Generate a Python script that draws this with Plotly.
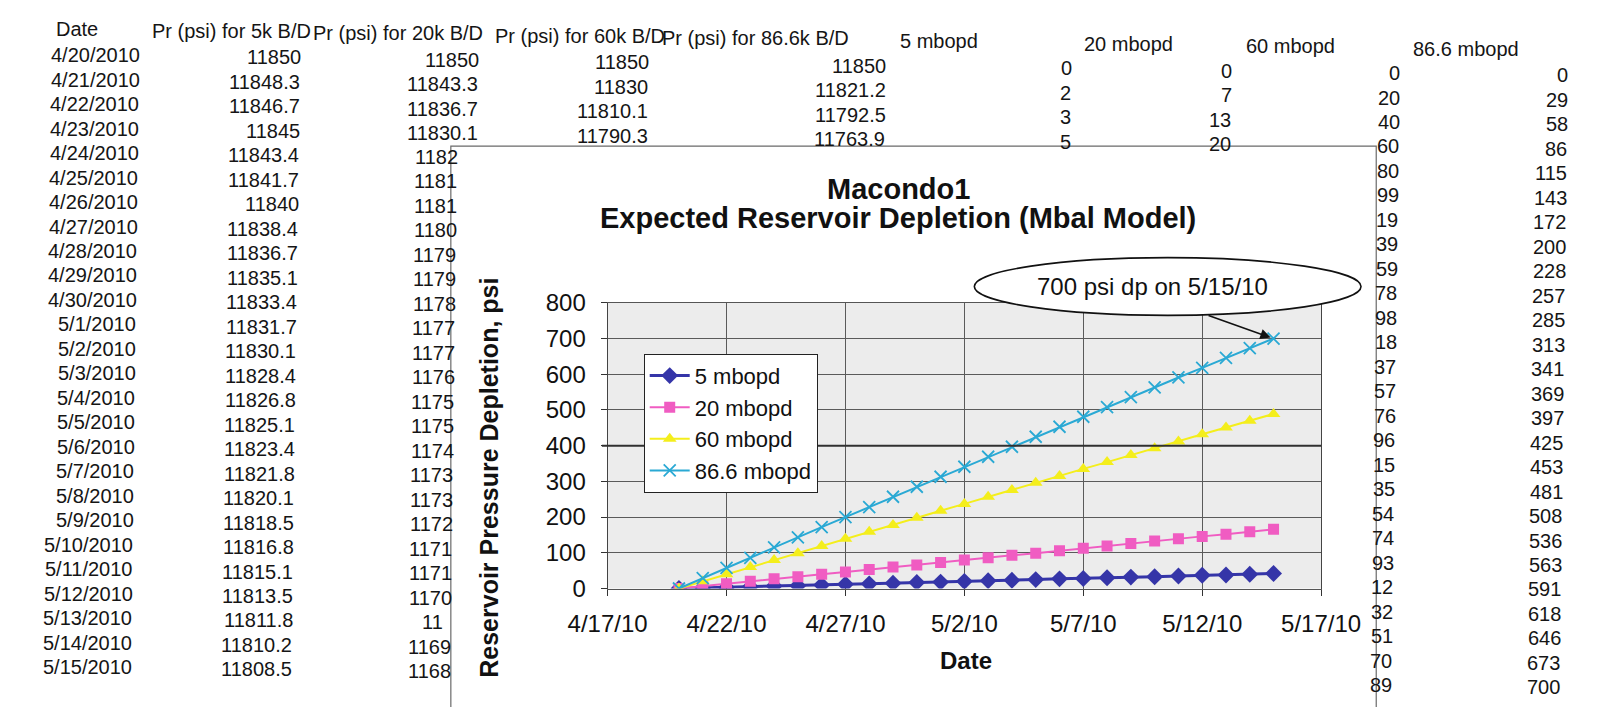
import plotly.graph_objects as go
import pandas as pd

W, H = 1603, 707
OFF = 8  # the page body margin shifts the figure by 8 px
FONT = "Liberation Sans, Arial, sans-serif"
ROT = 0.014  # slight tilt of the scanned sheet

# ---------------- data ----------------
dates = ["4/20/2010", "4/21/2010", "4/22/2010", "4/23/2010", "4/24/2010", "4/25/2010",
         "4/26/2010", "4/27/2010", "4/28/2010", "4/29/2010", "4/30/2010", "5/1/2010",
         "5/2/2010", "5/3/2010", "5/4/2010", "5/5/2010", "5/6/2010", "5/7/2010",
         "5/8/2010", "5/9/2010", "5/10/2010", "5/11/2010", "5/12/2010", "5/13/2010",
         "5/14/2010", "5/15/2010"]
pr_5k = [11850, 11848.3, 11846.7, 11845, 11843.4, 11841.7, 11840, 11838.4, 11836.7,
         11835.1, 11833.4, 11831.7, 11830.1, 11828.4, 11826.8, 11825.1, 11823.4,
         11821.8, 11820.1, 11818.5, 11816.8, 11815.1, 11813.5, 11811.8, 11810.2, 11808.5]
pr_20k = [11850, 11843.3, 11836.7, 11830.1]
pr_20k_clipped = ["1182", "1181", "1181", "1180", "1179", "1179", "1178", "1177", "1177",
                  "1176", "1175", "1175", "1174", "1173", "1173", "1172", "1171", "1171",
                  "1170", "11", "1169", "1168"]
pr_60k = [11850, 11830, 11810.1, 11790.3]
pr_86k = [11850, 11821.2, 11792.5, 11763.9]

dep_5 = [0, 2, 3, 5, 7, 8, 10, 12, 13, 15, 17, 18, 20, 22, 23, 25, 27, 28, 30, 32,
         33, 35, 37, 38, 40, 42]
dep_20 = [0, 7, 13, 20, 27, 33, 40, 46, 53, 60, 66, 73, 80, 86, 93, 99, 106, 113,
          119, 126, 133, 139, 146, 152, 159, 166]
dep_60 = [0, 20, 40, 60, 80, 99, 119, 139, 159, 178, 198, 218, 237, 257, 276, 296,
          315, 335, 354, 374, 393, 412, 432, 451, 470, 489]
dep_86 = [0, 29, 58, 86, 115, 143, 172, 200, 228, 257, 285, 313, 341, 369, 397, 425,
          453, 481, 508, 536, 563, 591, 618, 646, 673, 700]

table_headers = ["Date", "Pr (psi) for 5k B/D", "Pr (psi) for 20k B/D",
                 "Pr (psi) for 60k B/D", "Pr (psi) for 86.6k B/D",
                 "5 mbopd", "20 mbopd", "60 mbopd", "86.6 mbopd"]
series_names = ["5 mbopd", "20 mbopd", "60 mbopd", "86.6 mbopd"]
chart_title = ["Macondo1", "Expected Reservoir Depletion (Mbal Model)"]
y_title = "Reservoir Pressure Depletion, psi"
x_title = "Date"
callout = "700 psi dp on 5/15/10"
callout_date, callout_value = "2010-05-15", 700

x_dates = pd.to_datetime(dates, format="%m/%d/%Y")

# ---------------- figure ----------------
fig = go.Figure()

styles = [
    dict(color="#3535a8", symbol="diamond", size=13, lw=3),
    dict(color="#f05cc2", symbol="square", size=11, lw=2),
    dict(color="#f4ee1c", symbol="triangle-up", size=12, lw=2),
    dict(color="#2aa9d4", symbol="x-thin", size=12, lw=2),
]
for name, vals, st in zip(series_names, [dep_5, dep_20, dep_60, dep_86], styles):
    marker = dict(symbol=st["symbol"], size=st["size"], color=st["color"])
    if st["symbol"] == "x-thin":
        marker["line"] = dict(width=1.8, color=st["color"])
    fig.add_trace(go.Scatter(x=x_dates, y=vals, name=name, mode="lines+markers",
                             line=dict(color=st["color"], width=st["lw"]),
                             marker=marker))

def px(x):
    return (x - OFF) / W

def py(y):
    return 1 - (y - OFF) / H

# plot area in screen pixels
PL, PR, PT, PB = 597, 1348, 300, 597

annotations = []

def cell(text, x, y, anchor):
    X = x - ROT * y
    Y = y + ROT * x
    annotations.append(dict(text=text, x=px(X), y=py(Y), xref="paper", yref="paper",
                            xanchor=anchor, yanchor="middle", showarrow=False,
                            font=dict(size=20, color="#151515", family=FONT)))

# header
header_left = [15, 116, 285, 477, 652, 903, 1097, 1267, 1443]
for h, xl in zip(table_headers, header_left):
    cell(h, xl, 15.5, "left")

ROW0, ROWH = 41.0, 25.45
def ry(i):
    return ROW0 + ROWH * i

for i, d in enumerate(dates):
    cell(d, 107.5, ry(i), "right")
for i, v in enumerate(pr_5k):
    cell(f"{v:g}", 276.5, ry(i), "right")
for i, v in enumerate(pr_20k):
    cell(f"{v:g}", 464, ry(i), "right")
for j, s in enumerate(pr_20k_clipped):
    i = j + len(pr_20k)
    cell(s, 408 if len(s) == 2 else 394, ry(i), "left")
for i, v in enumerate(pr_60k):
    cell(f"{v:g}", 643, ry(i), "right")
for i, v in enumerate(pr_86k):
    cell(f"{v:g}", 893, ry(i), "right")
for i in range(4):
    cell(str(dep_5[i]), 1088, ry(i), "right")
    cell(str(dep_20[i]), 1257, ry(i), "right")
for i, v in enumerate(dep_60):
    s = str(v) if v < 100 else str(v)[-2:]
    cell(s, 1434, ry(i), "right")
for i, v in enumerate(dep_86):
    cell(str(v), 1611, ry(i), "right")

# chart texts
def ptext(text, x, y, size, angle=0):
    annotations.append(dict(text=text, x=px(x), y=py(y), xref="paper", yref="paper",
                            showarrow=False, textangle=angle,
                            xanchor="center", yanchor="middle",
                            font=dict(size=size, color="#111", family=FONT)))

ptext("<b>%s</b>" % chart_title[0], 903, 182, 29)
ptext("<b>%s</b>" % chart_title[1], 903, 212, 29)
ptext("<b>%s</b>" % y_title, 472, 482, 25, -90)
ptext("<b>%s</b>" % x_title, 974, 672, 24)
ptext(callout, 1170, 283, 24)
annotations.append(dict(text=" ", x=callout_date, y=callout_value, xref="x", yref="y",
                        showarrow=True, ax=-68, ay=-24, arrowhead=2, arrowsize=1.3,
                        arrowwidth=1.6, arrowcolor="#111", standoff=3))

shapes = [
    # chart object pasted over the sheet
    dict(type="rect", xref="paper", yref="paper", x0=px(432), x1=px(1406),
         y0=py(740), y1=py(137), fillcolor="white",
         line=dict(color="#6a6a6a", width=1.2), layer="below"),
    # plot area background
    dict(type="rect", xref="paper", yref="paper", x0=px(PL), x1=px(PR),
         y0=py(PB), y1=py(PT), fillcolor="#ececec",
         line=dict(width=0), layer="below"),
    # darker 400 line of the scan
    dict(type="line", xref="paper", yref="y", x0=px(PL - 6), x1=px(PR), y0=400, y1=400,
         line=dict(color="#303030", width=2), layer="above"),
    # callout ellipse
    dict(type="circle", xref="paper", yref="paper", x0=px(983), x1=px(1390),
         y0=py(313), y1=py(253), fillcolor="white",
         line=dict(color="#111", width=1.6), layer="above"),
]

fig.update_layout(
    width=W, height=H,
    margin=dict(l=0, r=0, t=0, b=0),
    paper_bgcolor="white",
    plot_bgcolor="rgba(0,0,0,0)",
    font=dict(family=FONT, color="#111"),
    showlegend=True,
    legend=dict(x=px(635), y=py(353), xanchor="left", yanchor="top",
                bgcolor="white", bordercolor="#222", borderwidth=1,
                font=dict(size=22, family=FONT, color="#111"),
                itemwidth=40, tracegroupgap=0),
    annotations=annotations,
    shapes=shapes,
    xaxis=dict(domain=[px(PL), px(PR)], type="date",
               range=["2010-04-17", "2010-05-17"],
               tick0="2010-04-17", dtick=5 * 86400000, tickformat="%-m/%-d/%y",
               showgrid=True, gridcolor="#5a5a5a", gridwidth=1,
               showline=True, linecolor="#555", linewidth=1, mirror=True,
               ticks="outside", ticklen=6, tickcolor="#333",
               tickfont=dict(size=24, family=FONT, color="#111"),
               ticklabelstandoff=8, zeroline=False, fixedrange=True),
    yaxis=dict(domain=[py(PB), py(PT)], range=[0, 800], dtick=100,
               showgrid=True, gridcolor="#5a5a5a", gridwidth=1,
               showline=True, linecolor="#444", linewidth=1, mirror=True,
               ticks="outside", ticklen=6, tickcolor="#333",
               tickfont=dict(size=24, family=FONT, color="#111"),
               ticklabelstandoff=10, zeroline=False, fixedrange=True),
)

fig.write_html("out.html")
